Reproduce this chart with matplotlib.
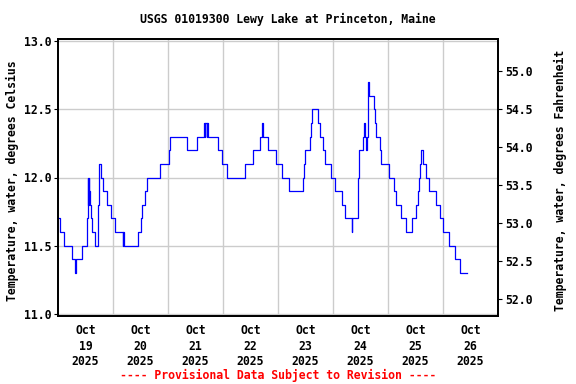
import numpy as np
import pandas as pd
import matplotlib
matplotlib.use("Agg")
import matplotlib.pyplot as plt

# hours after 2025-10-19 00:00 where the reading changes, and the new reading (deg C)
hours = [0, 0.9, 2.5, 6.0, 7.5, 7.8, 10.5, 12.6, 13.1, 13.3, 13.5, 13.7, 14.0, 14.4,
         15.0, 16.2, 17.4, 17.7, 17.9, 18.9, 19.6, 21.5, 23.0, 25.0, 28.2, 28.4, 28.6,
         34.8, 36.3, 36.8, 37.9, 38.9, 44.6, 48.3, 48.8, 56.1, 60.8, 63.6, 64.0, 64.3,
         65.0, 65.2, 65.6, 70.0, 71.7, 73.9, 81.8, 85.2, 88.3, 89.2, 89.5, 91.8, 95.3,
         97.8, 100.9, 106.8, 107.3, 107.9, 110.0, 110.5, 110.9, 113.6, 114.5, 115.6,
         116.5, 119.1, 120.7, 123.8, 125.2, 128.1, 128.4, 130.8, 131.1, 131.5, 133.2,
         133.6, 134.0, 134.4, 134.8, 135.2, 135.4, 135.8, 137.8, 138.2, 138.8, 140.3,
         140.9, 144.6, 146.4, 147.3, 149.8, 151.7, 154.6, 156.4, 157.0, 157.6, 158.0,
         158.2, 159.3, 160.7, 161.7, 165.1, 166.8, 168.1, 170.8, 173.4, 175.2, 178.3]
temp_c = [11.7, 11.6, 11.5, 11.4, 11.3, 11.4, 11.5, 11.7, 12.0, 11.8, 12.0, 11.9, 11.8, 11.7,
          11.6, 11.5, 11.8, 12.0, 12.1, 12.0, 11.9, 11.8, 11.7, 11.6, 11.5, 11.6, 11.5,
          11.6, 11.7, 11.8, 11.9, 12.0, 12.1, 12.2, 12.3, 12.2, 12.3, 12.4, 12.3, 12.4,
          12.3, 12.4, 12.3, 12.2, 12.1, 12.0, 12.1, 12.2, 12.3, 12.4, 12.3, 12.2, 12.1,
          12.0, 11.9, 12.0, 12.1, 12.2, 12.3, 12.4, 12.5, 12.4, 12.3, 12.2,
          12.1, 12.0, 11.9, 11.8, 11.7, 11.6, 11.7, 11.8, 12.0, 12.2, 12.3,
          12.4, 12.3, 12.2, 12.3, 12.5, 12.7, 12.6, 12.5, 12.4, 12.3, 12.2,
          12.1, 12.0, 11.9, 11.8, 11.7, 11.6, 11.7, 11.8, 11.9, 12.0, 12.1,
          12.2, 12.1, 12.0, 11.9, 11.8, 11.7, 11.6, 11.5, 11.4, 11.3, 11.3]

start = pd.Timestamp("2025-10-19 00:00")
days = pd.date_range("2025-10-19", periods=8, freq="D")
day_labels = [d.strftime("%b\n%d\n%Y") for d in days]

times = start + pd.to_timedelta(hours, unit="h")

mono = "DejaVu Sans Mono"
fs = 8.3

fig = plt.figure(figsize=(5.76, 3.84), dpi=100)
ax = fig.add_axes([58/576, 1-316/384, 440/576, 277/384])

ax.plot(times, temp_c, color="#0000ff", lw=0.9, drawstyle="steps-post")

ax.set_xlim(start, start + pd.Timedelta(days=8))
ax.set_ylim(10.985, 13.015)

ax.set_yticks(np.arange(11.0, 13.01, 0.5))
ax.set_yticklabels(["%.1f" % v for v in np.arange(11.0, 13.01, 0.5)],
                   family=mono, weight="bold", fontsize=fs)
ax.set_xticks(days + pd.Timedelta(hours=12))
ax.set_xticklabels(day_labels, family=mono, weight="bold", fontsize=fs, linespacing=1.25)
ax.set_xticks(pd.date_range("2025-10-20", periods=7, freq="D"), minor=True)
ax.tick_params(axis="x", which="both", length=0, pad=6)
ax.tick_params(axis="y", length=3, width=0.8, pad=2)

ax.grid(True, which="minor", axis="x", color="#cccccc", lw=1)
ax.grid(True, which="major", axis="y", color="#cccccc", lw=1)
ax.set_axisbelow(True)
for s in ax.spines.values():
    s.set_linewidth(1.3)

# Fahrenheit axis on the right
ax2 = ax.twinx()
lo, hi = ax.get_ylim()
ax2.set_ylim(lo*1.8 + 32, hi*1.8 + 32)
fticks = np.arange(52.0, 55.01, 0.5)
ax2.set_yticks(fticks)
ax2.set_yticklabels(["%.1f" % v for v in fticks], family=mono, weight="bold", fontsize=fs)
ax2.tick_params(axis="y", length=3, width=0.8, pad=2)
for s in ax2.spines.values():
    s.set_linewidth(1.3)

fig.text(0.5, 1-19/384, "USGS 01019300 Lewy Lake at Princeton, Maine",
         ha="center", va="center", family=mono, weight="bold", fontsize=fs)
fig.text(12/576, 1-181/384, "Temperature, water, degrees Celsius", rotation=90,
         ha="center", va="center", family=mono, weight="bold", fontsize=fs)
fig.text(560/576, 1-180/384, "Temperature, water, degrees Fahrenheit", rotation=90,
         ha="center", va="center", family=mono, weight="bold", fontsize=fs)
fig.text(278/576, 1-375/384, "---- Provisional Data Subject to Revision ----",
         ha="center", va="center", family=mono, weight="bold", fontsize=fs, color="red")

fig.savefig("out.png", dpi=100)
